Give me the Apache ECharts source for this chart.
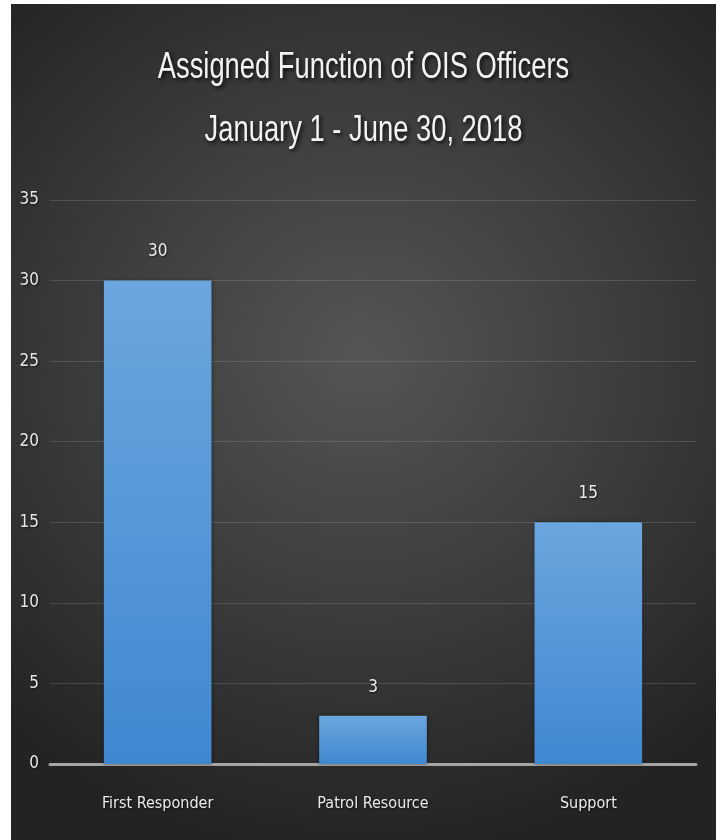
<!DOCTYPE html>
<html>
<head>
<meta charset="utf-8">
<script src="https://cdn.jsdelivr.net/npm/echarts@6/dist/echarts.min.js"></script>
<style>
  html, body { margin: 0; padding: 0; background: #ffffff; }
  #chart {
    position: absolute; left: 11px; top: 4px; width: 705px; height: 836px;
    background: radial-gradient(ellipse 75% 60% at 50% 42%, #555555 0%, #3d3d3d 50%, #232323 100%);
  }
</style>
</head>
<body>
<div id="chart"></div>
<script>
const titleLines = ['Assigned Function of OIS Officers', 'January 1 - June 30, 2018'];
const categories = ['First Responder', 'Patrol Resource', 'Support'];
const officerCounts = [30, 3, 15];
const yMin = 0, yMax = 35, yInterval = 5;

const chart = echarts.init(document.getElementById('chart'), null, { renderer: 'canvas' });
const font = '"DejaVu Sans Condensed", "Liberation Sans", sans-serif';
const titleFont = '"Liberation Sans", sans-serif';
const W = 705;
const shadow = { textShadowColor: 'rgba(0,0,0,0.6)', textShadowBlur: 2, textShadowOffsetX: 1, textShadowOffsetY: 1 };
function titleText(str, y) {
  return {
    type: 'text',
    x: W / 2, y: y,
    scaleX: 0.76, originX: 0, originY: 0,
    style: {
      text: str,
      fill: '#f2f2f2',
      font: '36px ' + titleFont,
      textAlign: 'center',
      textVerticalAlign: 'middle',
      textShadowColor: 'rgba(0,0,0,0.85)',
      textShadowBlur: 4,
      textShadowOffsetX: 2,
      textShadowOffsetY: 2
    }
  };
}
chart.setOption({
  backgroundColor: 'transparent',
  animation: false,
  graphic: [titleText(titleLines[0], 64), titleText(titleLines[1], 127)],
  grid: { left: 39, right: 20, top: 196, bottom: 76, containLabel: false },
  xAxis: {
    type: 'category',
    data: categories,
    axisLine: { show: true, lineStyle: { color: '#a6a6a6', width: 3 } },
    axisTick: { show: false },
    axisLabel: Object.assign({ color: '#ebebeb', fontFamily: font, fontSize: 16, margin: 32 }, shadow)
  },
  yAxis: {
    type: 'value',
    min: yMin, max: yMax, interval: yInterval,
    axisLine: { show: false },
    axisTick: { show: false },
    axisLabel: Object.assign({ color: '#e6e6e6', fontFamily: font, fontSize: 17, margin: 11 }, shadow),
    splitLine: { lineStyle: { color: 'rgba(255,255,255,0.13)', width: 1 } }
  },
  series: [{
    type: 'bar',
    data: officerCounts,
    barWidth: '50%',
    itemStyle: {
      color: new echarts.graphic.LinearGradient(0, 0, 0, 1, [
        { offset: 0, color: '#6ba6de' },
        { offset: 1, color: '#3f88d0' }
      ]),
      shadowColor: 'rgba(0,0,0,0.45)',
      shadowBlur: 4
    },
    label: Object.assign({
      show: true, position: 'top', distance: 20,
      color: '#ebebeb', fontFamily: font, fontSize: 17
    }, shadow)
  }]
});
</script>
</body>
</html>
